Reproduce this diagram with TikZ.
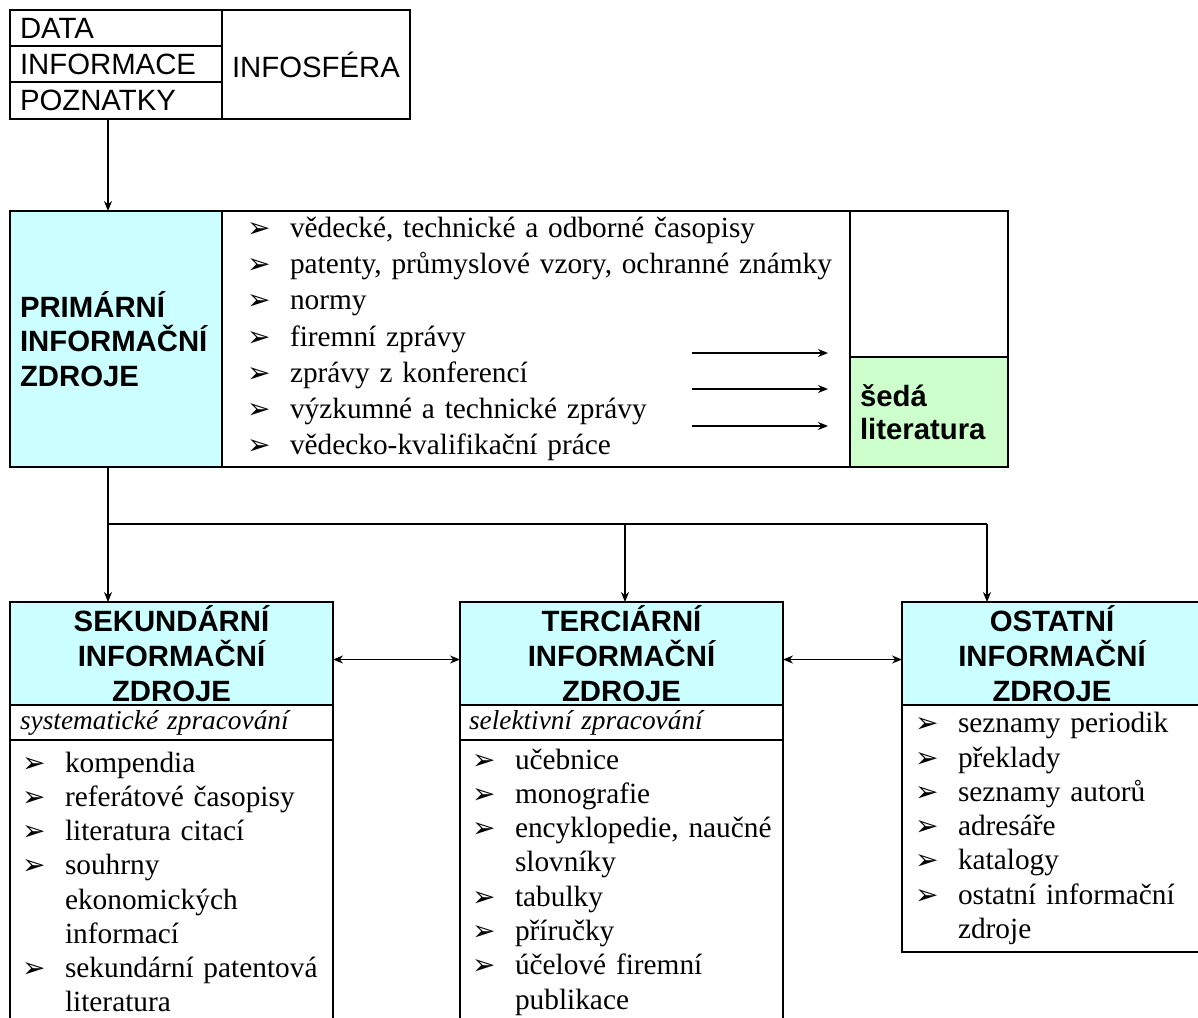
\documentclass[tikz,border=0pt]{standalone}
\usepackage{fontspec}
\setmainfont{Liberation Serif}
\setsansfont{Liberation Sans}
\newfontfamily\bulfont{DejaVu Sans}
\usetikzlibrary{positioning, arrows.meta, calc}
\newdimen\pixel \pixel=0.75pt
\definecolor{cyanbox}{HTML}{CCFFFF}
\definecolor{greenbox}{HTML}{CCFFCC}
\newcommand\bul{{\bulfont\fontsize{21}{21}\selectfont ➢}}
\newcommand\itm[1]{\mbox{\makebox[43\pixel][l]{\bul}#1}}
\newcommand\cont[1]{\mbox{\hspace*{43\pixel}#1}}
\tikzset{
  cell/.style={draw, line width=0.8pt, inner sep=0pt, outer sep=0pt, anchor=north west},
  sanstxt/.style={font=\sffamily\fontsize{22}{26}\selectfont},
  headtxt/.style={font=\sffamily\bfseries\fontsize{22}{26.2}\selectfont, fill=cyanbox, align=center},
  subtxt/.style={font=\itshape\fontsize{20.5}{24}\selectfont, align=left, text width=303\pixel, inner xsep=10\pixel},
  listtxt/.style={font=\fontsize{22}{25.7}\selectfont, align=left},
  arr/.style={-{Stealth[length=7.5pt,width=6pt]}, line width=0.8pt},
  twoarr/.style={{Stealth[length=7.5pt,width=6pt]}-{Stealth[length=7.5pt,width=6pt]}, line width=0.8pt},
}
\begin{document}
\begin{tikzpicture}[x=0.75pt, y=-0.75pt]
\useasboundingbox (0,0) rectangle (1198,1017);

% infosfera
\node[cell, sanstxt, text width=192\pixel, inner xsep=10\pixel, minimum height=36\pixel, align=left] (data) at (10,10) {DATA};
\node[cell, sanstxt, text width=192\pixel, inner xsep=10\pixel, minimum height=36\pixel, align=left, below=0pt of data] (info) {INFORMACE};
\node[cell, sanstxt, text width=192\pixel, inner xsep=10\pixel, minimum height=37\pixel, align=left, below=0pt of info] (pozn) {POZNATKY};
\node[cell, sanstxt, minimum width=188\pixel, minimum height=109\pixel] (sfera) at (data.north east) {INFOSFÉRA};

% primarni zdroje
\node[cell, headtxt, align=left, text width=192\pixel, inner xsep=10\pixel, minimum height=256\pixel,
      font=\sffamily\bfseries\fontsize{22}{25.9}\selectfont] (prim) at (10,211) {PRIMÁRNÍ\\INFORMAČNÍ\\ZDROJE};
\node[cell, listtxt, font=\fontsize{22}{27.1}\selectfont, text width=578\pixel, inner xsep=25\pixel, minimum height=256\pixel] (primlist) at (prim.north east) {%
  \itm{vědecké, technické a odborné časopisy}\\
  \itm{patenty, průmyslové vzory, ochranné známky}\\
  \itm{normy}\\
  \itm{firemní zprávy}\\
  \itm{zprávy z konferencí}\\
  \itm{výzkumné a technické zprávy}\\
  \itm{vědecko-kvalifikační práce}};
\node[cell, minimum width=158\pixel, minimum height=146\pixel] (blank) at (primlist.north east) {};
\node[cell, fill=greenbox, font=\sffamily\bfseries\fontsize{22}{24.8}\selectfont, align=left,
      text width=138\pixel, inner xsep=10\pixel, minimum height=110\pixel, below=0pt of blank] (grey) {šedá\\literatura};
\foreach \dy in {-59,-23,14}
  \draw[arr, line width=1pt] ([shift={(-158,\dy)}]grey.west) -- ([shift={(-22,\dy)}]grey.west);

% sekundarni
\node[cell, headtxt, minimum width=323\pixel, minimum height=103\pixel] (sekhead) at (10,602) {SEKUNDÁRNÍ\\INFORMAČNÍ\\ZDROJE};
\node[cell, subtxt, minimum height=35\pixel, below=0pt of sekhead] (seksub) {systematické zpracování};
\node[cell, listtxt, text width=299\pixel, inner xsep=12\pixel, minimum height=284\pixel, below=0pt of seksub] (sekbody) {%
  \itm{kompendia}\\
  \itm{referátové časopisy}\\
  \itm{literatura citací}\\
  \itm{souhrny}\\
  \cont{ekonomických}\\
  \cont{informací}\\
  \itm{sekundární patentová}\\
  \cont{literatura}};

% terciarni
\node[cell, headtxt, minimum width=323\pixel, minimum height=103\pixel, right=127\pixel of sekhead] (terhead) {TERCIÁRNÍ\\INFORMAČNÍ\\ZDROJE};
\node[cell, subtxt, inner xsep=9\pixel, text width=305\pixel, minimum height=35\pixel, below=0pt of terhead] (tersub) {selektivní zpracování};
\node[cell, listtxt, text width=299\pixel, inner xsep=12\pixel, minimum height=284\pixel, below=0pt of tersub] (terbody) {%
  \itm{učebnice}\\
  \itm{monografie}\\
  \itm{encyklopedie, naučné}\\
  \cont{slovníky}\\
  \itm{tabulky}\\
  \itm{příručky}\\
  \itm{účelové firemní}\\
  \cont{publikace}};

% ostatni
\node[cell, headtxt, minimum width=300\pixel, minimum height=103\pixel, right=119\pixel of terhead] (osthead) {OSTATNÍ\\INFORMAČNÍ\\ZDROJE};
\node[cell, listtxt, text width=274\pixel, inner xsep=13\pixel, minimum height=247\pixel, below=0pt of osthead] (ostbody) {%
  \itm{seznamy periodik}\\
  \itm{překlady}\\
  \itm{seznamy autorů}\\
  \itm{adresáře}\\
  \itm{katalogy}\\
  \itm{ostatní informační}\\
  \cont{zdroje}};

% spojnice
\coordinate (fork) at ($(prim.south west)+(98,57)$);
\coordinate (terin) at ([xshift=165\pixel]terhead.north west);
\coordinate (ostin) at ([xshift=85\pixel]osthead.north west);
\draw[arr] ([xshift=98\pixel]pozn.south west) -- ([xshift=98\pixel]prim.north west);
\draw[arr] ([xshift=98\pixel]prim.south west) -- ([xshift=98\pixel]sekhead.north west);
\draw[line width=0.8pt] (fork) -- (fork -| ostin);
\draw[arr] (fork -| terin) -- (terin);
\draw[arr] (fork -| ostin) -- (ostin);
\draw[twoarr] ([yshift=-6\pixel]sekhead.east) -- ([yshift=-6\pixel]terhead.west);
\draw[twoarr] ([yshift=-6\pixel]terhead.east) -- ([yshift=-6\pixel]osthead.west);
\end{tikzpicture}
\end{document}
